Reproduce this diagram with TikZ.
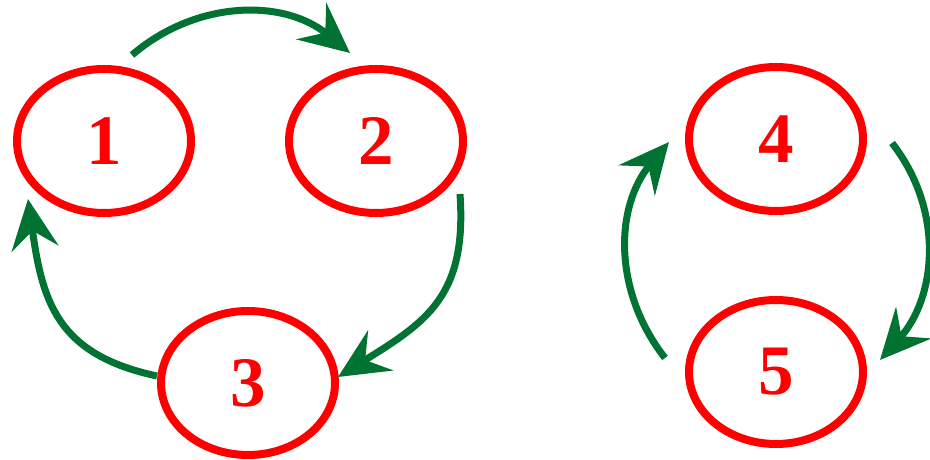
\documentclass[tikz,border=0pt]{standalone}
\usepackage{fontspec}
\setmainfont{Liberation Serif}
\usetikzlibrary{arrows.meta,calc,shapes.geometric}
\definecolor{nodered}{RGB}{255,0,0}
\definecolor{arrowgreen}{RGB}{0,115,50}
\begin{document}
\begin{tikzpicture}[x=1pt,y=1pt,
  state/.style={ellipse,draw=nodered,line width=8pt,minimum width=174pt,minimum height=144pt,inner sep=0pt,outer sep=0pt,text=nodered,font=\fontsize{71}{71}\selectfont\bfseries},
  link/.style={draw=arrowgreen,line width=7pt,-{Stealth[length=50pt,width=47pt,inset=18pt]}}]
\useasboundingbox (0,0) rectangle (930,-460);
\node[state] (n1) at (104,-141) {1};
\node[state] (n2) at (376,-141) {2};
\node[state] (n3) at (248,-383) {3};
\node[state] (n4) at (776,-139) {4};
\node[state] (n5) at (776,-372) {5};
\draw[link] ($(n1)+(28,86)$) to[bend left=40] ($(n2)+(-26,88)$);
\draw[link] ($(n2)+(84,-53)$) to[out=-86,in=32,looseness=1.2] ($(n3)+(90,6)$);
\draw[link] ($(n3)+(-91,7)$) to[out=168,in=-82,looseness=1.2] ($(n1)+(-76,-58)$);
\draw[link] ($(n4)+(116,-4)$) to[out=-52,in=48] ($(n5)+(104,12)$);
\draw[link] ($(n5)+(-111,14)$) to[out=128,in=-130] ($(n4)+(-107,-3)$);
\end{tikzpicture}
\end{document}
